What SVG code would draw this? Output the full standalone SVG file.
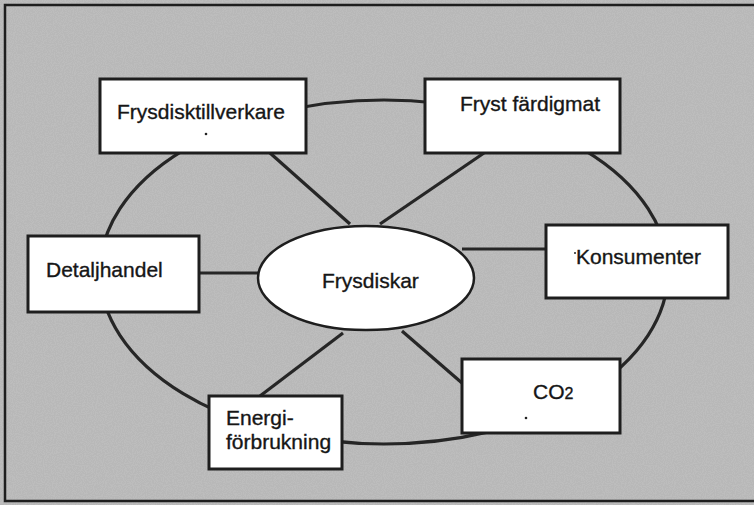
<svg xmlns="http://www.w3.org/2000/svg" width="754" height="505" viewBox="0 0 754 505">
<defs>
<style>
.bg{fill:#bdbdbd}
.frame{fill:none;stroke:#1e1e1e;stroke-width:2.5}
.box{fill:#ffffff;stroke:#1e1e1e;stroke-width:3}
.line{fill:none;stroke:#262626;stroke-width:3.2}
.t{font-family:"Liberation Sans",Arial,sans-serif;font-size:21px;fill:#161616;stroke:#161616;stroke-width:0.35}
.dot{fill:#222}
</style>
<filter id="speck" x="0" y="0" width="100%" height="100%">
<feTurbulence type="fractalNoise" baseFrequency="0.9" numOctaves="1" seed="4" result="n"/>
<feColorMatrix type="matrix" values="0 0 0 0 0.35 0 0 0 0 0.35 0 0 0 0 0.35 0 0 0 -9 5.2" in="n"/>
</filter>
</defs>
<rect class="bg" x="0" y="0" width="754" height="505"/>
<rect x="0" y="0" width="754" height="505" filter="url(#speck)" opacity="0.15"/>
<path class="frame" d="M754 5 H5 V501 H754"/>
<g id="connectors">
<ellipse class="line" cx="384" cy="272" rx="284" ry="172"/>
<line class="line" x1="270" y1="153" x2="350" y2="224"/>
<line class="line" x1="484" y1="153" x2="380" y2="224"/>
<line class="line" x1="199" y1="273" x2="258" y2="273"/>
<line class="line" x1="462" y1="249" x2="546" y2="249"/>
<line class="line" x1="260" y1="396" x2="343" y2="333"/>
<line class="line" x1="402" y1="331" x2="462" y2="383"/>
</g>
<g id="center">
<ellipse cx="366" cy="278" rx="108" ry="52" fill="#ffffff" stroke="#1e1e1e" stroke-width="2.5"/>
<text class="t" x="322" y="288">Frysdiskar</text>
</g>
<g id="frysdisktillverkare">
<rect class="box" x="100" y="79" width="206" height="74"/>
<text class="t" x="117" y="119">Frysdisktillverkare</text>
<circle class="dot" cx="206" cy="134" r="1.3"/>
</g>
<g id="fryst-fardigmat">
<rect class="box" x="425" y="79" width="195" height="74"/>
<text class="t" x="460" y="111">Fryst färdigmat</text>
</g>
<g id="detaljhandel">
<rect class="box" x="28" y="236" width="171" height="76"/>
<text class="t" x="46" y="277">Detaljhandel</text>
</g>
<g id="konsumenter">
<rect class="box" x="546" y="225" width="182" height="73"/>
<text class="t" x="576" y="264">Konsumenter</text>
<circle class="dot" cx="575" cy="253" r="1"/>
</g>
<g id="co2">
<rect class="box" x="462" y="359" width="158" height="74"/>
<text class="t" x="533" y="399">CO<tspan font-size="16">2</tspan></text>
<circle class="dot" cx="526" cy="418" r="1.3"/>
</g>
<g id="energiforbrukning">
<rect class="box" x="209" y="396" width="133" height="73"/>
<text class="t" x="226" y="425">Energi-</text>
<text class="t" x="226" y="449">förbrukning</text>
</g>
</svg>
